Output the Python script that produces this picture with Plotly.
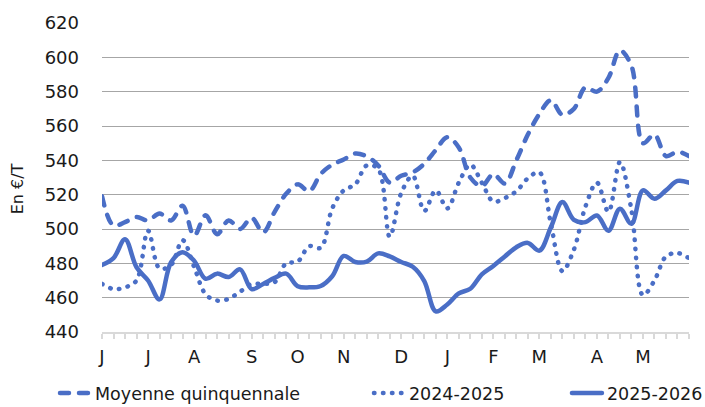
import plotly.graph_objects as go

weeks = list(range(52))
month_labels = ["J", "", "", "", "J", "", "", "", "A", "", "", "", "", "S", "", "", "",
                "O", "", "", "", "N", "", "", "", "", "D", "", "", "", "J", "", "", "",
                "F", "", "", "", "M", "", "", "", "", "A", "", "", "", "M", "", "", "", ""]

moyenne = [519, 502, 504, 507, 505, 509, 505, 513.5, 496, 508, 497, 505, 500, 506.5, 498,
           510, 520.5, 526, 522, 532, 537.5, 540.5, 544, 542.3, 537, 527, 531, 533, 538,
           546, 553.5, 547.5, 530, 525, 532, 526.5, 540, 555, 567, 575, 566.5, 570, 582.5,
           580, 588, 604, 595, 550, 555, 542.5, 545, 542.5]

s2024 = [468, 465, 466, 470, 499, 477, 479, 493.5, 478, 462, 458.3, 459.3, 463.5, 468, 468,
         469, 480, 481, 490, 489, 512, 522.5, 526, 537, 535, 495.5, 521, 531, 510.5, 522.5,
         512, 527, 537.5, 527, 516, 518, 522, 529.5, 533, 503, 475.5, 488, 513, 527, 510,
         539, 511, 461.5, 470, 484, 486, 483]

s2025 = [479, 483, 494, 477.7, 470, 459, 480.6, 486.5, 481.5, 471, 474, 472, 476.5, 465, 468,
         471.5, 474, 466.7, 466, 466.8, 472.5, 484.3, 480.8, 481, 485.8, 484, 480.8, 478,
         469.7, 452, 456, 462.5, 465.2, 473.6, 478.5, 484, 489.4, 491.9, 487.4, 501, 515.7,
         505.3, 504, 507.9, 499, 511.8, 503, 522.5, 517.6, 522.5, 528, 527]

y_ticks = [440, 460, 480, 500, 520, 540, 560, 580, 600, 620]

COLOR = "#4A6EC6"
FONT = "DejaVu Sans"
TXT = "#1a1a1a"

fig = go.Figure()
fig.add_trace(go.Scatter(x=weeks, y=moyenne, mode="lines", name="Moyenne quinquennale",
                         line=dict(color=COLOR, width=4.5, dash="9px,10px", shape="spline", smoothing=1),
                         legend="legend2"))
fig.add_trace(go.Scatter(x=weeks, y=s2024, mode="lines", name="2024-2025",
                         line=dict(color=COLOR, width=4.5, dash="0.5px,8.5px", shape="spline", smoothing=1),
                         legend="legend3"))
fig.add_trace(go.Scatter(x=weeks, y=s2025, mode="lines", name="2025-2026",
                         line=dict(color=COLOR, width=4.5, shape="spline", smoothing=1),
                         legend="legend4"))

leg_common = dict(orientation="h", yanchor="middle", y=-0.198, xanchor="left",
                  font=dict(family=FONT, size=17.5, color=TXT), bgcolor="rgba(0,0,0,0)")

fig.update_layout(
    width=705, height=407,
    margin=dict(l=102, r=16, t=23, b=75, autoexpand=False),
    paper_bgcolor="white", plot_bgcolor="white",
    font=dict(family=FONT, size=16, color=TXT),
    legend2=dict(x=-0.0801, **leg_common),
    legend3=dict(x=0.4548, **leg_common),
    legend4=dict(x=0.7921, **leg_common),
    xaxis=dict(range=[0, 51], tickmode="array", tickvals=weeks, ticktext=month_labels,
               ticks="outside", ticklen=5, tickwidth=1.5, tickcolor="#D9D9D9",
               showline=True, linecolor="#D9D9D9", linewidth=1.5,
               showgrid=False, zeroline=False, tickangle=0, automargin=False,
               tickfont=dict(family=FONT, size=18, color=TXT), ticklabelstandoff=3),
    yaxis=dict(range=[440, 620], tickmode="array", tickvals=y_ticks,
               showgrid=True, gridcolor="#A6A6A6", gridwidth=1,
               zeroline=False, showline=False, ticks="", automargin=False,
               tickfont=dict(family=FONT, size=18, color=TXT), ticklabelstandoff=22),
    annotations=[dict(text="En €/T", xref="paper", yref="paper", x=-0.1448, y=0.462,
                      textangle=-90, showarrow=False, xanchor="center", yanchor="middle",
                      font=dict(family=FONT, size=16, color=TXT))],
)

post = ("document.body.style.margin='0';"
        "var s=document.createElement('style');"
        "s.textContent='body{margin:0}path.js-line{stroke-linecap:round;stroke-linejoin:round}';"
        "document.head.appendChild(s);")
fig.write_html("out.html", post_script=post, config={"displayModeBar": False})
